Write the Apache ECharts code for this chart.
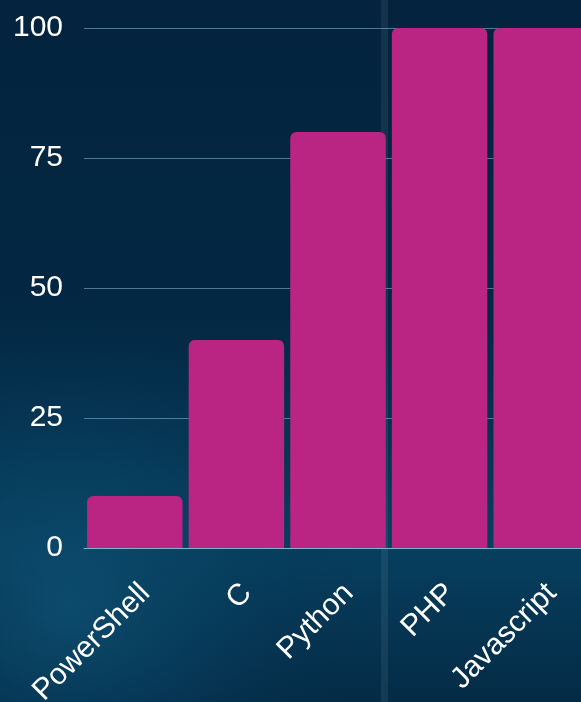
<!DOCTYPE html>
<html>
<head>
<meta charset="utf-8">
<script src="https://cdn.jsdelivr.net/npm/echarts@6/dist/echarts.min.js"></script>
<style>
html,body{margin:0;padding:0;background:#03243f;}
#c{width:581px;height:702px;}
</style>
</head>
<body>
<div id="c"></div>
<script>
const categories = ['PowerShell', 'C', 'Python', 'PHP', 'Javascript'];
const values = [10, 40, 80, 100, 100];
const yTicks = [0, 25, 50, 75, 100];

const chart = echarts.init(document.getElementById('c'), null, {renderer: 'canvas'});
chart.setOption({
  animation: false,
  backgroundColor: 'transparent',
  graphic: [
    {type: 'rect', z: -10, silent: true, shape: {x: 0, y: 0, width: 581, height: 702},
     style: {fill: new echarts.graphic.LinearGradient(0, 0, 0, 1, [
       {offset: 0, color: '#03233e'}, {offset: 0.45, color: '#032843'},
       {offset: 0.78, color: '#073f5e'}, {offset: 1, color: '#042b46'}])}},
    {type: 'rect', z: -9, silent: true, shape: {x: 0, y: 0, width: 581, height: 702},
     style: {fill: new echarts.graphic.RadialGradient(0.12, 0.86, 0.5, [
       {offset: 0, color: 'rgba(14,80,115,0.8)'}, {offset: 0.5, color: 'rgba(10,70,105,0.35)'}, {offset: 1, color: 'rgba(5,45,75,0)'}])}},
    {type: 'rect', z: -8, silent: true, shape: {x: 381, y: 0, width: 7, height: 702},
     style: {fill: 'rgba(255,255,255,0.07)'}}
  ],
  grid: {left: 84, width: 508, top: 28, height: 520, containLabel: false, outerBoundsMode: 'none'},
  xAxis: {
    type: 'category',
    data: categories,
    axisTick: {show: false},
    axisLine: {show: true, lineStyle: {color: '#7fb3c4', width: 1}},
    axisLabel: {interval: 0, rotate: 45, color: '#ffffff', fontSize: 30, margin: 30,
      verticalAlign: 'top',
      fontFamily: 'Liberation Sans, Arial, sans-serif'}
  },
  yAxis: {
    type: 'value', min: 0, max: 100, interval: 25,
    axisLine: {show: false}, axisTick: {show: false},
    splitLine: {lineStyle: {color: 'rgba(130,175,195,0.6)', width: 1}},
    axisLabel: {color: '#ffffff', fontSize: 30, margin: 21,
      fontFamily: 'Liberation Sans, Arial, sans-serif',
      formatter: v => yTicks.includes(v) ? String(v) : ''}
  },
  series: [{
    type: 'bar', data: values, barCategoryGap: '6%',
    itemStyle: {color: '#ba2482', borderRadius: [6, 6, 0, 0]}
  }]
});
</script>
</body>
</html>
